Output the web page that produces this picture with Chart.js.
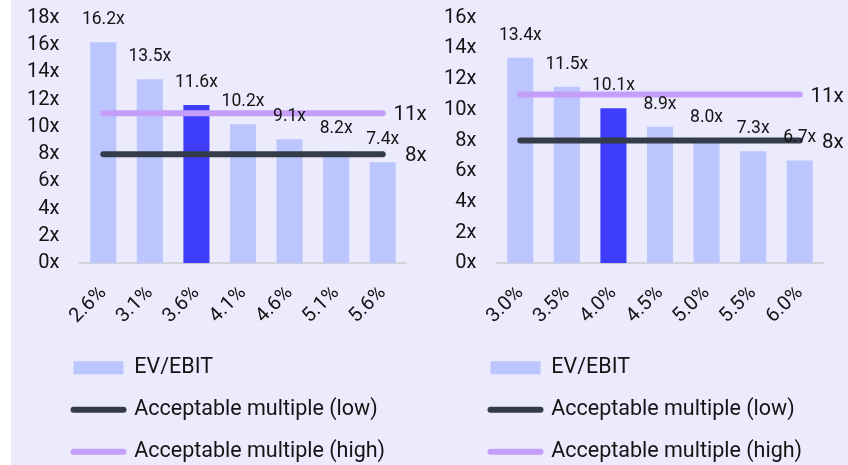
<!DOCTYPE html>
<html>
<head>
<meta charset="utf-8">
<script src="https://cdn.jsdelivr.net/npm/chart.js@4.4.0/dist/chart.umd.min.js"></script>
<style>
  html, body { margin: 0; padding: 0; width: 848px; height: 465px; overflow: hidden; background: #ffffff; }
  #panel { position: absolute; left: 11px; top: 0; width: 837px; height: 465px; background: #ECEAFD; }
  .box { position: absolute; top: 0; width: 431px; height: 480px; }
  #left { left: 0; }
  #right { left: 417px; }
  canvas { display: block; }
</style>
</head>
<body>
<div id="panel"></div>
<div class="box" id="left"><canvas id="chartA" width="431" height="480"></canvas></div>
<div class="box" id="right"><canvas id="chartB" width="431" height="480"></canvas></div>
<script>
// Discount-rate sensitivity of the EV/EBIT multiple
const ratesA = ['2.6%', '3.1%', '3.6%', '4.1%', '4.6%', '5.1%', '5.6%'];
const evEbitA = [16.2, 13.5, 11.6, 10.2, 9.1, 8.2, 7.4];
const ratesB = ['3.0%', '3.5%', '4.0%', '4.5%', '5.0%', '5.5%', '6.0%'];
const evEbitB = [13.4, 11.5, 10.1, 8.9, 8.0, 7.3, 6.7];
const lowMultiple = [8, 8, 8, 8, 8, 8, 8];
const highMultiple = [11, 11, 11, 11, 11, 11, 11];
const baseCaseIndex = 2;
const yMaxA = 18;
const yMaxB = 16;

const FONT = 'Roboto, "Liberation Sans", Arial, sans-serif';
const TEXT = '#141414';
const BAR = '#BAC6FD';
const BAR_BASE = '#3F3DFC';
const LOW = '#353C49';
const HIGH = '#C59EF9';
const LEGEND_INDENT = 53;

// Value labels above bars and at the end of the reference lines
const valueLabels = {
  id: 'valueLabels',
  afterLayout(chart) {
    // indent the legend block under the plot
    chart.legend.left += LEGEND_INDENT;
    chart.legend.right += LEGEND_INDENT;
  },
  afterDatasetsDraw(chart) {
    const ctx = chart.ctx;
    ctx.save();
    ctx.fillStyle = TEXT;
    ctx.textBaseline = 'middle';

    ctx.font = '17.5px ' + FONT;
    ctx.textAlign = 'center';
    const bars = chart.getDatasetMeta(2);
    bars.data.forEach((bar, i) => {
      const v = chart.data.datasets[2].data[i];
      ctx.fillText(v.toFixed(1) + 'x', bar.x, bar.y - 22.5);
    });

    ctx.font = '20.5px ' + FONT;
    ctx.textAlign = 'right';
    [0, 1].forEach(di => {
      const pts = chart.getDatasetMeta(di).data;
      const last = pts[pts.length - 1];
      const vals = chart.data.datasets[di].data;
      ctx.fillText(vals[vals.length - 1] + 'x', last.x + 44, last.y + 2);
    });
    ctx.restore();
  }
};

function buildChart(canvasId, rates, values, yMax) {
  const barColors = values.map((_, i) => i === baseCaseIndex ? BAR_BASE : BAR);
  return new Chart(document.getElementById(canvasId), {
    data: {
      labels: rates,
      datasets: [
        {
          type: 'line', label: 'Acceptable multiple (low)', data: lowMultiple,
          borderColor: LOW, borderWidth: 6, borderCapStyle: 'round',
          pointRadius: 0, pointHoverRadius: 0, tension: 0, order: 1
        },
        {
          type: 'line', label: 'Acceptable multiple (high)', data: highMultiple,
          borderColor: HIGH, borderWidth: 6, borderCapStyle: 'round',
          pointRadius: 0, pointHoverRadius: 0, tension: 0, order: 2
        },
        {
          type: 'bar', label: 'EV/EBIT', data: values,
          backgroundColor: barColors, borderWidth: 0,
          categoryPercentage: 1, barPercentage: 0.56, order: 3
        }
      ]
    },
    options: {
      responsive: false,
      animation: false,
      events: [],
      layout: { padding: { top: 17.8, right: 25, bottom: 7.5, left: 0 } },
      scales: {
        x: {
          grid: { display: false, drawTicks: false },
          border: { display: true, color: '#D3D3DC', width: 2 },
          ticks: {
            color: TEXT, font: { family: FONT, size: 20 },
            minRotation: 45, maxRotation: 45, autoSkip: false, padding: 18
          },
          afterFit: s => { s.height = 73.2; }
        },
        y: {
          min: 0, max: yMax,
          grid: { display: false, drawTicks: true, tickLength: 20.5 },
          border: { display: false },
          ticks: {
            stepSize: 2, autoSkip: false, color: TEXT, font: { family: FONT, size: 20 },
            padding: 0, callback: v => v + 'x'
          },
          afterFit: s => { s.width = 80; }
        }
      },
      plugins: {
        tooltip: { enabled: false },
        legend: {
          position: 'bottom',
          align: 'start',
          labels: {
            usePointStyle: true,
            pointStyleWidth: 50,
            boxHeight: 13,
            padding: 20.5,
            color: TEXT,
            font: { family: FONT, size: 21.5 },
            generateLabels: chart => {
              const ds = chart.data.datasets;
              return [2, 0, 1].map(i => ({
                text: ds[i].label,
                datasetIndex: i,
                fillStyle: i === 2 ? BAR : ds[i].borderColor,
                strokeStyle: i === 2 ? BAR : ds[i].borderColor,
                lineWidth: i === 2 ? 0 : 6,
                lineCap: 'round',
                pointStyle: i === 2 ? 'rect' : 'line',
                hidden: false,
                fontColor: TEXT
              }));
            }
          }
        }
      }
    },
    plugins: [valueLabels]
  });
}

buildChart('chartA', ratesA, evEbitA, yMaxA);
buildChart('chartB', ratesB, evEbitB, yMaxB);
</script>
</body>
</html>
